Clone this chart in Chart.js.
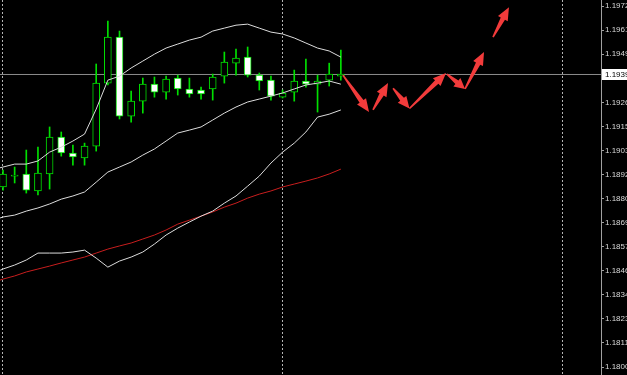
<!DOCTYPE html>
<html>
<head>
<meta charset="utf-8">
<script src="https://cdn.jsdelivr.net/npm/chart.js@4.4.0/dist/chart.umd.min.js"></script>
<style>
  html, body { margin: 0; padding: 0; background: #000; }
  #chart { display: block; }
</style>
</head>
<body>
<canvas id="chart" width="627" height="375"></canvas>
<script>
// candles, one per bar
const bars = [0, 1, 2, 3, 4, 5, 6, 7, 8, 9, 10, 11, 12, 13, 14, 15, 16, 17, 18, 19, 20, 21, 22, 23, 24, 25, 26, 27, 28, 29]
const opens  = [1.18858, 1.18910, 1.18920, 1.18839, 1.18920, 1.19096, 1.19020, 1.18996, 1.19053, 1.19353, 1.19572, 1.19196, 1.19267, 1.19348, 1.19310, 1.19377, 1.19325, 1.19320, 1.19325, 1.19386, 1.19448, 1.19477, 1.19391, 1.19367, 1.19286, 1.19310, 1.19363, 1.19348, 1.19367, 1.19386]
const highs  = [1.18939, 1.18953, 1.19034, 1.19048, 1.19144, 1.19120, 1.19058, 1.19067, 1.19444, 1.19649, 1.19601, 1.19315, 1.19377, 1.19382, 1.19386, 1.19391, 1.19377, 1.19334, 1.19396, 1.19501, 1.19515, 1.19525, 1.19401, 1.19386, 1.19320, 1.19415, 1.19467, 1.19391, 1.19448, 1.19510]
const lows   = [1.18843, 1.18877, 1.18829, 1.18820, 1.18848, 1.19005, 1.18962, 1.18962, 1.19029, 1.19344, 1.19182, 1.19167, 1.19210, 1.19286, 1.19277, 1.19296, 1.19286, 1.19277, 1.19272, 1.19353, 1.19391, 1.19382, 1.19320, 1.19272, 1.19282, 1.19267, 1.19334, 1.19215, 1.19339, 1.19367]
const closes = [1.18920, 1.18915, 1.18843, 1.18924, 1.19096, 1.19020, 1.19001, 1.19053, 1.19353, 1.19572, 1.19196, 1.19267, 1.19348, 1.19310, 1.19372, 1.19325, 1.19301, 1.19301, 1.19382, 1.19453, 1.19472, 1.19391, 1.19363, 1.19291, 1.19306, 1.19363, 1.19348, 1.19363, 1.19396, 1.19396]

// indicators start one bar earlier (off the left edge)
const lineBars = [-1, 0, 1, 2, 3, 4, 5, 6, 7, 8, 9, 10, 11, 12, 13, 14, 15, 16, 17, 18, 19, 20, 21, 22, 23, 24, 25, 26, 27, 28, 29]
const bbUpper  = [1.18939, 1.18953, 1.18967, 1.18967, 1.18982, 1.19024, 1.19048, 1.19077, 1.19110, 1.19229, 1.19367, 1.19386, 1.19425, 1.19458, 1.19491, 1.19520, 1.19539, 1.19558, 1.19572, 1.19601, 1.19615, 1.19629, 1.19634, 1.19615, 1.19596, 1.19587, 1.19568, 1.19544, 1.19520, 1.19506, 1.19477]
const bbMiddle = [1.18696, 1.18715, 1.18724, 1.18743, 1.18758, 1.18777, 1.18800, 1.18815, 1.18834, 1.18881, 1.18929, 1.18953, 1.18977, 1.19010, 1.19039, 1.19077, 1.19115, 1.19129, 1.19144, 1.19177, 1.19210, 1.19239, 1.19263, 1.19277, 1.19291, 1.19306, 1.19325, 1.19344, 1.19353, 1.19363, 1.19348]
const bbLower  = [1.18443, 1.18467, 1.18486, 1.18510, 1.18543, 1.18543, 1.18543, 1.18548, 1.18557, 1.18519, 1.18476, 1.18505, 1.18524, 1.18548, 1.18586, 1.18629, 1.18662, 1.18691, 1.18719, 1.18743, 1.18781, 1.18815, 1.18862, 1.18910, 1.18972, 1.19024, 1.19067, 1.19120, 1.19191, 1.19205, 1.19225]
const maSlow   = [1.18400, 1.18419, 1.18434, 1.18453, 1.18467, 1.18481, 1.18496, 1.18510, 1.18524, 1.18543, 1.18562, 1.18577, 1.18591, 1.18610, 1.18629, 1.18653, 1.18681, 1.18700, 1.18719, 1.18739, 1.18762, 1.18781, 1.18805, 1.18824, 1.18839, 1.18858, 1.18872, 1.18886, 1.18901, 1.18920, 1.18943]

// price axis
const tickValues = [1.19720, 1.19605, 1.19491, 1.19376, 1.19261, 1.19147, 1.19032, 1.18917, 1.18803, 1.18688, 1.18573, 1.18459, 1.18344, 1.18229, 1.18115, 1.18000]
const tickLabels = ['1.1972', '1.1961', '1.1949', '1.1938', '1.1926', '1.1915', '1.1903', '1.1892', '1.1880', '1.1869', '1.1857', '1.1846', '1.1834', '1.1823', '1.1811', '1.1800']
const gridBars = [0, 24, 48]
const bidPrice = 1.19394
const bidLabel = '1.1939'

// drawn arrows: [bar, price] from -> to
const arrowStart = [[29.18, 1.19391], [31.76, 1.19225], [33.48, 1.19329], [34.89, 1.19232], [38.11, 1.19396], [39.66, 1.19325], [42.06, 1.19572]]
const arrowEnd   = [[31.42, 1.19215], [33.05, 1.19353], [34.89, 1.19232], [38.03, 1.19401], [39.66, 1.19325], [41.29, 1.19501], [43.43, 1.19715]]

const xMin = -0.2575, xMax = 51.33
const yMin = 1.17962, yMax = 1.19749
const green = '#00e000'

const candleBodies = bars.map((b, i) => ({ x: b, y: [opens[i], closes[i]] }))
const candleWicks = bars.map((b, i) => ({ x: b, y: [lows[i], highs[i]] }))
const toPoints = arr => lineBars.map((b, i) => ({ x: b, y: arr[i] }))

const lineSet = (arr, color, order) => ({
  type: 'line', data: toPoints(arr), borderColor: color, borderWidth: 1,
  pointRadius: 0, tension: 0, order: order
})

const arrows = {
  id: 'arrows',
  afterDatasetsDraw(chart) {
    const { ctx, scales: { x, y } } = chart
    ctx.save()
    ctx.fillStyle = '#f23b3b'
    arrowStart.forEach((s, i) => {
      const e = arrowEnd[i]
      const x1 = x.getPixelForValue(s[0]), y1 = y.getPixelForValue(s[1])
      const x2 = x.getPixelForValue(e[0]), y2 = y.getPixelForValue(e[1])
      const len = Math.hypot(x2 - x1, y2 - y1)
      const ux = (x2 - x1) / len, uy = (y2 - y1) / len
      const nx = -uy, ny = ux
      const hl = Math.min(13, len * 0.45)
      const bx = x2 - ux * hl, by = y2 - uy * hl
      ctx.beginPath()
      ctx.moveTo(x1 + nx * 0.8, y1 + ny * 0.8)
      ctx.lineTo(bx + nx * 2.4, by + ny * 2.4)
      ctx.lineTo(bx + nx * 5.5, by + ny * 5.5)
      ctx.lineTo(x2, y2)
      ctx.lineTo(bx - nx * 5.5, by - ny * 5.5)
      ctx.lineTo(bx - nx * 2.4, by - ny * 2.4)
      ctx.lineTo(x1 - nx * 0.8, y1 - ny * 0.8)
      ctx.closePath()
      ctx.fill()
    })
    ctx.restore()
  }
}

const bidLabelBox = {
  id: 'bidLabelBox',
  afterDraw(chart) {
    const { ctx, scales: { y } } = chart
    const py = Math.round(y.getPixelForValue(bidPrice))
    ctx.save()
    ctx.fillStyle = '#fff'
    ctx.fillRect(y.left + 1, py - 5, chart.width - y.left, 11)
    ctx.fillStyle = '#000'
    ctx.font = '8px "Liberation Sans"'
    ctx.textBaseline = 'middle'
    ctx.fillText(bidLabel, y.left + 4, py + 0.5)
    ctx.restore()
  }
}

new Chart(document.getElementById('chart'), {
  type: 'bar',
  data: {
    datasets: [
      lineSet(bbUpper, '#dcdcdc', 1),
      lineSet(bbMiddle, '#dcdcdc', 1),
      lineSet(bbLower, '#dcdcdc', 1),
      lineSet(maSlow, '#c81e1e', 2),
      {
        type: 'bar', data: candleBodies,
        backgroundColor: c => closes[c.dataIndex] < opens[c.dataIndex] ? '#ffffff' : '#000000',
        borderColor: green, borderWidth: 1, borderSkipped: false,
        barThickness: 7, grouped: false, minBarLength: 1, order: 3
      },
      {
        type: 'bar', data: candleWicks, backgroundColor: green,
        barThickness: 1, grouped: false, order: 4
      },
      {
        type: 'line', data: [{ x: xMin, y: bidPrice }, { x: xMax, y: bidPrice }],
        borderColor: '#8c8c8c', borderWidth: 1, pointRadius: 0, order: 5
      }
    ]
  },
  options: {
    responsive: false,
    animation: false,
    devicePixelRatio: 1,
    layout: { padding: 0 },
    plugins: { legend: { display: false }, tooltip: { enabled: false } },
    scales: {
      x: {
        type: 'linear', min: xMin, max: xMax, offset: false,
        afterBuildTicks: s => { s.ticks = gridBars.map(v => ({ value: v })) },
        afterFit: s => { s.height = 0; s.paddingLeft = 0; s.paddingRight = 0 },
        ticks: { display: false },
        grid: { color: '#b4b4b4', drawTicks: false, lineWidth: 1, offset: false },
        border: { display: false, dash: [2, 2] }
      },
      y: {
        position: 'right', min: yMin, max: yMax,
        afterBuildTicks: s => { s.ticks = tickValues.map(v => ({ value: v })) },
        afterFit: s => { s.width = 26; s.paddingTop = 0; s.paddingBottom = 0 },
        ticks: {
          autoSkip: false, color: '#d8d8d8', padding: 1,
          font: { family: 'Liberation Sans', size: 8 },
          callback: (v, i) => tickLabels[i]
        },
        grid: { drawOnChartArea: false, tickLength: 3, color: '#a0a0a0' },
        border: { display: true, color: '#a0a0a0' }
      }
    }
  },
  plugins: [arrows, bidLabelBox]
})
</script>
</body>
</html>
